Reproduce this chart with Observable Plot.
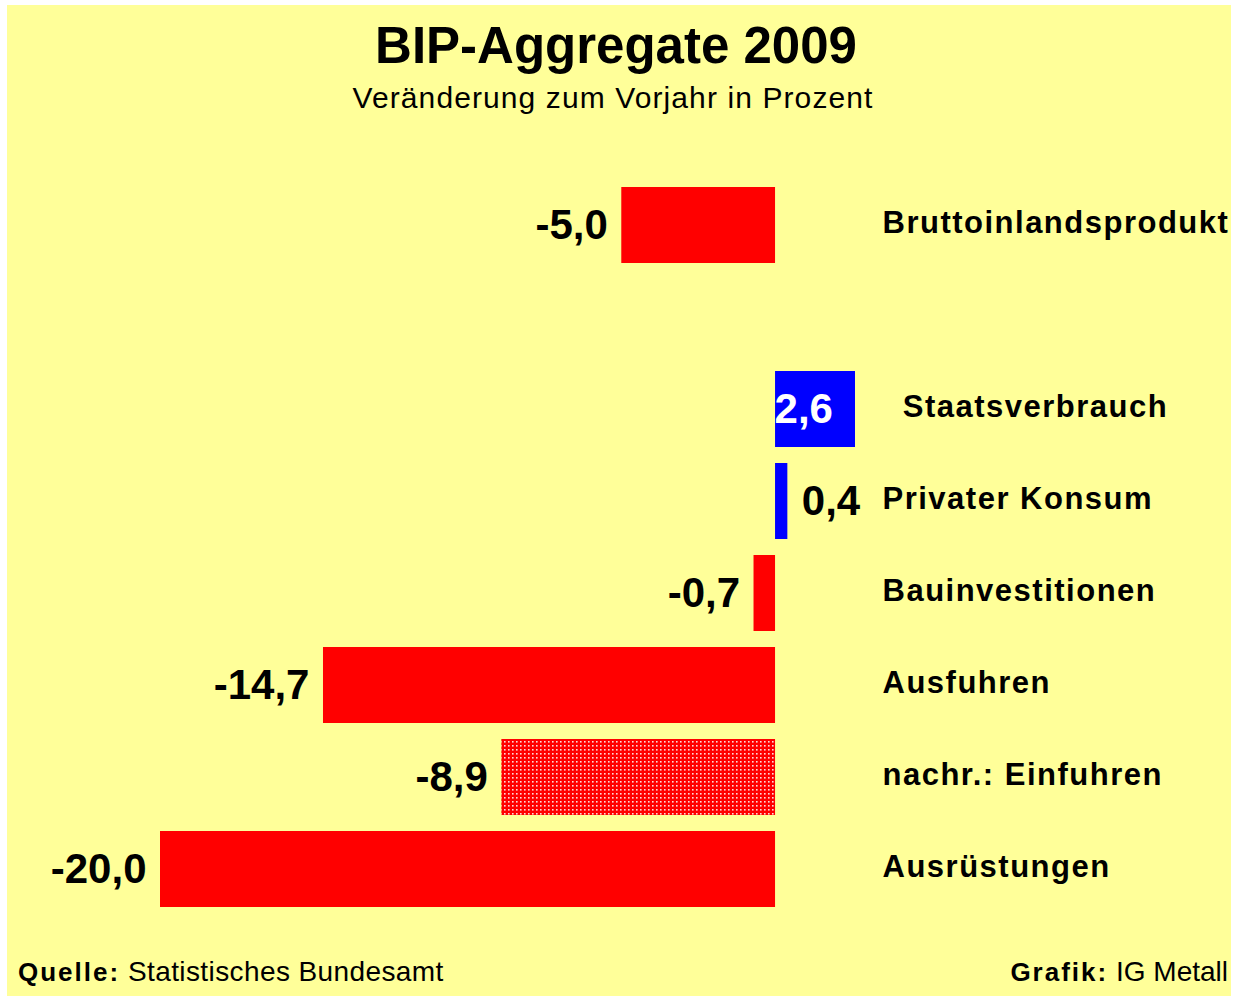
<!DOCTYPE html>
<html lang="de">
<head>
<meta charset="utf-8">
<script src="https://cdn.jsdelivr.net/npm/d3@7"></script>
<script src="https://cdn.jsdelivr.net/npm/@observablehq/plot@0.6"></script>
<style>
  html, body { margin: 0; padding: 0; background: #ffffff; }
  body { width: 1234px; height: 996px; position: relative; overflow: hidden;
         font-family: "Liberation Sans", Arial, Helvetica, sans-serif; }
  #frame { position: absolute; left: 7px; top: 5px; width: 1224px; height: 991px; background: #FFFF99; overflow: hidden; }
  #title { position: absolute; left: -3px; top: 15px; width: 1224px; text-align: center;
           font-size: 51px; line-height: 51px; font-weight: bold; color: #000; }
  #subtitle { position: absolute; left: -6px; top: 78px; width: 1224px; text-align: center;
              font-size: 30px; line-height: 30px; letter-spacing: 1.1px; color: #000; }
  #chart { position: absolute; left: 0; top: 115px; }
  .foot { position: absolute; top: 953px; font-size: 28px; line-height: 28px; color: #000; white-space: nowrap; }
  .foot b { font-size: 26px; letter-spacing: 2px; }
  #quelle { left: 11px; }
  #quelle span { letter-spacing: 0.4px; }
  #grafik { right: 3px; }
  g[aria-label="y-axis tick label"] text { letter-spacing: 1.5px; }
</style>
</head>
<body>
<div id="frame">
  <div id="title">BIP-Aggregate 2009</div>
  <div id="subtitle">Veränderung zum Vorjahr in Prozent</div>
  <div id="chart"></div>
  <div class="foot" id="quelle"><b>Quelle:</b> <span>Statistisches Bundesamt</span></div>
  <div class="foot" id="grafik"><b>Grafik:</b> IG Metall</div>
</div>
<script>
// ---- data ----
const categories = ["Bruttoinlandsprodukt", "Staatsverbrauch", "Privater Konsum", "Bauinvestitionen", "Ausfuhren", "nachr.: Einfuhren", "Ausrüstungen"];
const values = [-5.0, 2.6, 0.4, -0.7, -14.7, -8.9, -20.0];
const memoItems = ["nachr.: Einfuhren"];
const spacer = "\u2003";

// ---- build ----
const rows = categories.map((c, i) => ({cat: c, value: values[i], memo: memoItems.includes(c)}));
const yDomain = [categories[0], spacer, ...categories.slice(1)];
const de = d3.formatLocale({decimal: ",", thousands: ".", grouping: [3], currency: ["", " €"], minus: "-"});
const fmt = de.format(".1f");

const RED = "#FF0000", BLUE = "#0000FF";
const fillOf = d => d.memo ? "url(#dots)" : (d.value < 0 ? RED : BLUE);

const chart = Plot.plot({
  width: 1224,
  height: 830,
  marginLeft: 153,
  marginRight: 376,
  marginTop: 49,
  marginBottom: 24,
  style: {background: "transparent", fontFamily: "'Liberation Sans', Arial, sans-serif", color: "#000", overflow: "visible"},
  x: {domain: [-20, 2.6], axis: null},
  y: {domain: yDomain, padding: 0.17, axis: null},
  color: {type: "identity"},
  marks: [
    Plot.barX(rows, {x: "value", y: "cat", fill: fillOf}),
    Plot.text(rows.filter(d => d.value < 0), {
      x: "value", y: "cat", text: d => fmt(d.value), textAnchor: "end", dx: -14,
      fontSize: 42, fontWeight: "bold", fill: "#000"
    }),
    Plot.text(rows.filter(d => d.value >= 0 && d.value < 1), {
      x: "value", y: "cat", text: d => fmt(d.value), textAnchor: "start", dx: 14,
      fontSize: 42, fontWeight: "bold", fill: "#000"
    }),
    Plot.text(rows.filter(d => d.value >= 1), {
      x: () => 0, y: "cat", text: d => fmt(d.value), textAnchor: "start", dx: -1,
      fontSize: 42, fontWeight: "bold", fill: "#FFFFFF"
    }),
    Plot.axisY({
      anchor: "right", ticks: categories, tickSize: 0, tickPadding: 27, label: null,
      textAnchor: "start", fontSize: 31, fontWeight: "bold", dy: -2,
      tickFormat: d => d === "Staatsverbrauch" ? "\u00a0\u00a0" + d : d
    })
  ]
});

// dotted pattern for the memo item
const svg = d3.select(chart);
const defs = svg.insert("defs", ":first-child");
const pat = defs.append("pattern").attr("id", "dots").attr("patternUnits", "userSpaceOnUse")
  .attr("width", 4).attr("height", 4);
pat.append("rect").attr("width", 4).attr("height", 4).attr("fill", RED);
pat.append("rect").attr("x", 1).attr("y", 1).attr("width", 1.6).attr("height", 1.6).attr("fill", "#FFFFFF").attr("fill-opacity", 0.85);

document.getElementById("chart").appendChild(chart);
</script>
</body>
</html>
